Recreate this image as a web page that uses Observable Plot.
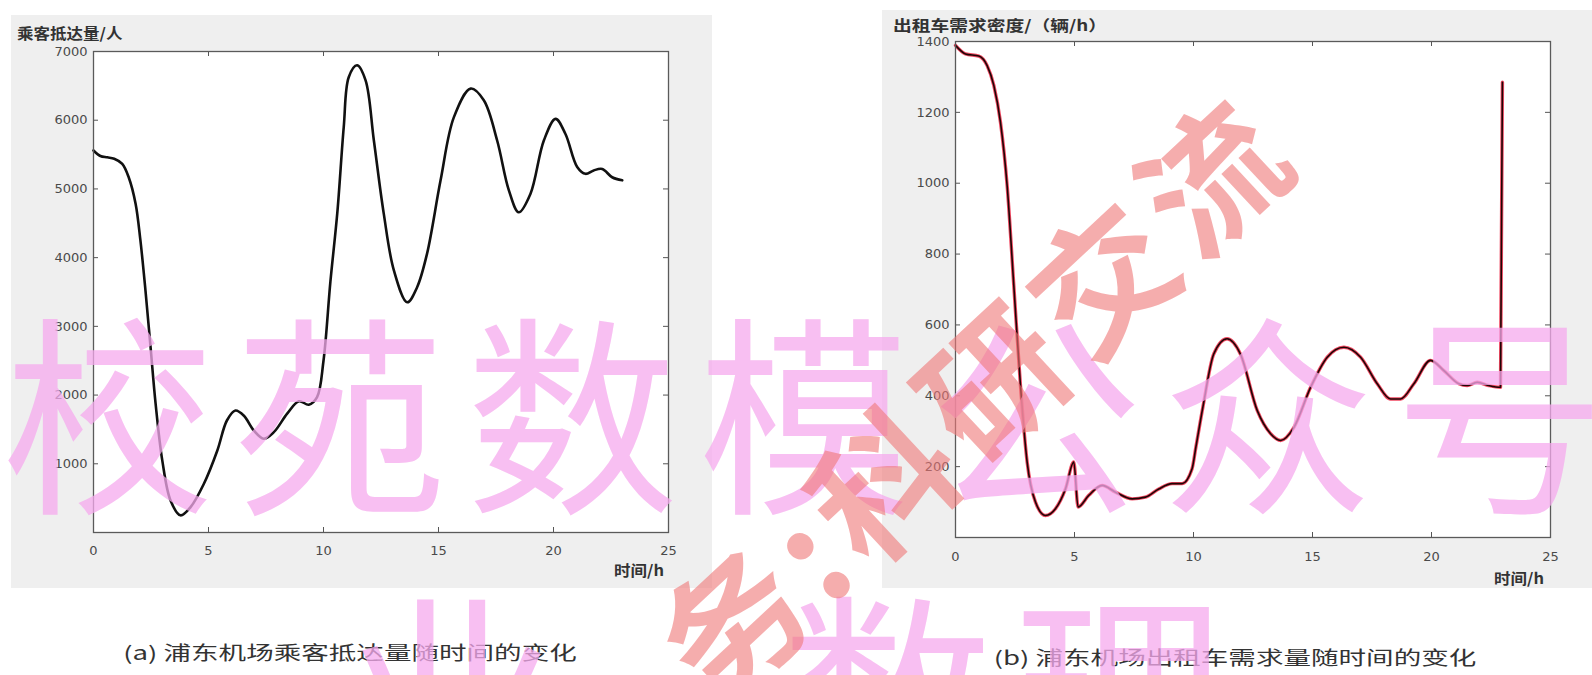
<!DOCTYPE html>
<html><head><meta charset="utf-8">
<script src="https://cdn.jsdelivr.net/npm/d3@7"></script>
<script src="https://cdn.jsdelivr.net/npm/@observablehq/plot@0.6"></script>
<style>
body{margin:0;background:#fff;}
#root{position:relative;width:1592px;height:675px;overflow:hidden;background:#fff;}
.panel{position:absolute;background:#efefef;}
.ttl{position:absolute;font-family:"Noto Sans CJK SC";font-weight:700;font-size:15px;color:#333;white-space:nowrap;line-height:1;transform-origin:left center;}
.cap{position:absolute;font-family:"Noto Sans CJK SC";font-size:19px;color:#333;white-space:nowrap;line-height:1;transform:translateX(-50%) scaleX(1.45);transform-origin:center center;}
.wm{position:absolute;white-space:nowrap;line-height:1;font-family:"Noto Sans CJK SC";pointer-events:none;}
</style></head><body><div id="root">
<div class="panel" id="pa" style="left:11px;top:15px;width:701px;height:573px;"></div>
<div class="panel" id="pb" style="left:882px;top:10px;width:710px;height:578px;"></div>
<div class="ttl" style="left:17px;top:25px;transform:scaleX(1.1);">乘客抵达量/人</div>
<div class="ttl" style="left:893px;top:17px;transform:scaleX(1.25);">出租车需求密度/（辆/h）</div>
<div class="ttl" style="left:614px;top:562px;transform:scaleX(1.1);">时间/h</div>
<div class="ttl" style="left:1494px;top:570px;transform:scaleX(1.1);">时间/h</div>
<div class="cap" style="left:350px;top:642px;">(a) 浦东机场乘客抵达量随时间的变化</div>
<div class="cap" style="left:1235px;top:647px;">(b) 浦东机场出租车需求量随时间的变化</div>
<div class="wm" style="left:2px;top:300px;font-size:212px;letter-spacing:20px;color:rgb(246,170,238);opacity:0.75;">校苑数模公众号</div>
<div class="wm" style="left:345px;top:578px;font-size:212px;color:rgb(246,170,238);opacity:0.75;">业</div>
<div class="wm" style="left:782px;top:578px;font-size:212px;letter-spacing:20px;color:rgb(246,170,238);opacity:0.75;">数理</div>
<div class="wm" style="left:515px;top:322px;width:912px;text-align:center;font-size:140px;letter-spacing:10px;color:rgb(240,120,120);opacity:0.6;transform:rotate(-43deg);font-weight:700;">务:科研交流</div>
</div>
<script>
// ---- data (a): passenger arrivals ----
const timeA = [0, 0.3, 0.6, 0.9, 1.25, 1.53, 1.83, 2.04, 2.26, 2.48, 2.7, 2.99, 3.35, 3.78, 4.22, 4.8, 5.38, 5.8, 6.17, 6.54, 6.97, 7.4, 7.84, 8.42, 8.93, 9.36, 9.72, 10.0, 10.3, 10.6, 10.88, 11.1, 11.46, 11.83, 12.19, 12.62, 13.06, 13.64, 14.07, 14.5, 15.09, 15.67, 16.4, 16.97, 17.55, 18.06, 18.49, 19.0, 19.58, 20.09, 20.52, 21.03, 21.39, 21.75, 22.12, 22.55, 22.99];
const arrivals = [5560, 5480, 5460, 5440, 5365, 5170, 4785, 4250, 3520, 2700, 1875, 1050, 465, 250, 370, 710, 1190, 1630, 1775, 1700, 1485, 1365, 1460, 1730, 1910, 1860, 1970, 2500, 3650, 4650, 5900, 6630, 6800, 6580, 5705, 4640, 3815, 3350, 3570, 4055, 5125, 6045, 6460, 6290, 5705, 4980, 4660, 4930, 5705, 6020, 5800, 5320, 5220, 5270, 5290, 5170, 5125];
// ---- data (b): taxi demand density ----
const timeB = [0, 0.42, 0.98, 1.33, 1.61, 1.89, 2.17, 2.45, 2.73, 3.01, 3.36, 3.78, 4.2, 4.62, 4.97, 5.15, 5.6, 6.16, 6.72, 7.42, 7.98, 8.54, 9.1, 9.52, 9.94, 10.1, 10.4, 10.85, 11.41, 11.97, 12.68, 13.24, 13.66, 14.22, 14.92, 15.62, 16.32, 17.02, 17.72, 18.28, 18.7, 19.26, 19.96, 20.52, 21.15, 21.5, 21.92, 22.4, 22.9, 22.98];
const demand = [1389, 1365, 1359, 1332, 1276, 1172, 993, 711, 429, 213, 100, 62, 81, 137, 213, 86, 119, 147, 128, 109, 114, 137, 152, 152, 194, 255, 370, 518, 561, 518, 358, 293, 274, 311, 424, 509, 537, 509, 434, 391, 391, 434, 500, 471, 434, 429, 438, 429, 424, 1285];
// ---- ticks ----
const xTicks = [0, 5, 10, 15, 20, 25];
const yTicksA = [1000, 2000, 3000, 4000, 5000, 6000, 7000];
const yTicksB = [200, 400, 600, 800, 1000, 1200, 1400];

function chart({t, v, yMax, yTicks, width, height, ml, mr, mt, mb, lineMarks, xPad}) {
  const data = t.map((x, i) => ({t: x, v: v[i]}));
  const iH = height - mt - mb, iW = width - ml - mr;
  const fmt = d => String(d);
  return Plot.plot({
    width, height, marginLeft: ml, marginRight: mr, marginTop: mt, marginBottom: mb,
    style: {background: "transparent", fontFamily: "DejaVu Sans", fontSize: "13px", color: "#4a4a4a"},
    x: {domain: [0, 25], label: null},
    y: {domain: [0, yMax], label: null},
    marks: [
      Plot.frame({fill: "white", stroke: null}),
      Plot.axisX({ticks: xTicks, tickSize: 0, tickPadding: xPad, tickFormat: fmt, label: null}),
      Plot.axisY({ticks: yTicks, tickSize: 0, tickPadding: 6, tickFormat: fmt, label: null}),
      Plot.ruleX(xTicks, {x: d => d, insetTop: iH - 5, stroke: "#555"}),
      Plot.ruleX(xTicks, {x: d => d, insetBottom: iH - 5, stroke: "#555"}),
      Plot.ruleY(yTicks, {y: d => d, insetRight: iW - 5, stroke: "#555"}),
      Plot.ruleY(yTicks, {y: d => d, insetLeft: iW - 5, stroke: "#555"}),
      ...lineMarks(data),
      Plot.frame({stroke: "#5a5a5a", strokeWidth: 1.3})
    ]
  });
}

document.getElementById("pa").append(chart({
  t: timeA, v: arrivals, yMax: 7000, yTicks: yTicksA,
  width: 701, height: 573, ml: 82, mr: 44, mt: 36, mb: 56, xPad: 13,
  lineMarks: d => [Plot.line(d, {x: "t", y: "v", curve: "catmull-rom", stroke: "#111", strokeWidth: 2.6})]
}));
document.getElementById("pb").append(chart({
  t: timeB, v: demand, yMax: 1400, yTicks: yTicksB,
  width: 710, height: 578, ml: 73, mr: 42, mt: 31, mb: 51, xPad: 14,
  lineMarks: d => [
    Plot.line(d, {x: "t", y: "v", curve: "monotone-x", stroke: "#ec1a3a", strokeWidth: 3.4, strokeOpacity: 0.8}),
    Plot.line(d, {x: "t", y: "v", curve: "monotone-x", stroke: "#1e0606", strokeWidth: 1.6})
  ]
}));
</script></body></html>
